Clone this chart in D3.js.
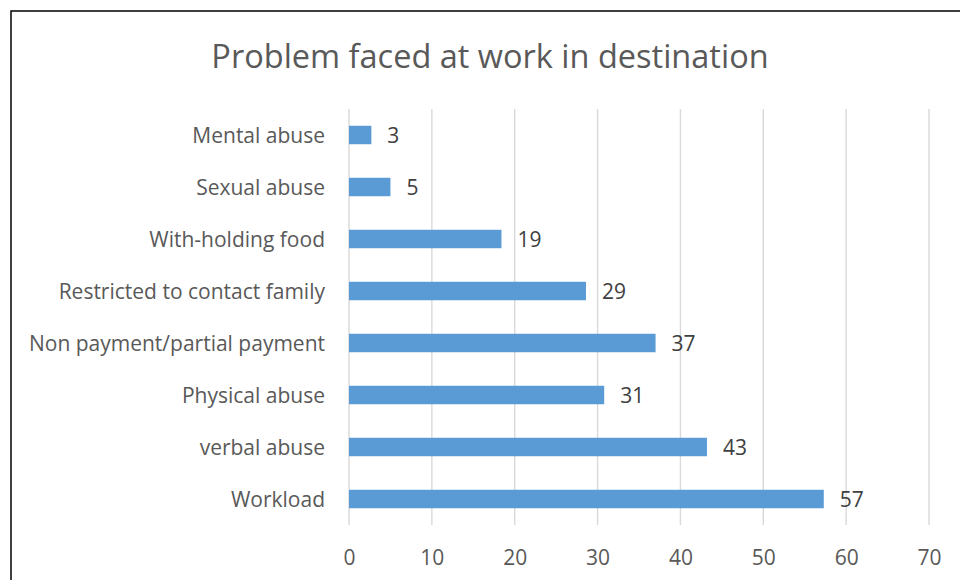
<!DOCTYPE html>
<html>
<head>
<meta charset="utf-8">
<script src="https://cdn.jsdelivr.net/npm/d3@7"></script>
<style>
  body { margin: 0; background: #fff; }
  svg { display: block; font-family: "Open Sans", sans-serif; }
</style>
</head>
<body>
<div id="chart"></div>
<script>
// categories top to bottom, as in the picture
const categories = [
  "Mental abuse",
  "Sexual abuse",
  "With-holding food",
  "Restricted to contact family",
  "Non payment/partial payment",
  "Physical abuse",
  "verbal abuse",
  "Workload",
];
// bar lengths as drawn
const barValues = [2.7, 5.0, 18.4, 28.6, 37.0, 30.8, 43.2, 57.3];
// numbers printed next to the bars
const dataLabels = [3, 5, 19, 29, 37, 31, 43, 57];
const xTicks = [0, 10, 20, 30, 40, 50, 60, 70];

const width = 960;
const height = 580;
const margin = { top: 109, right: 31, bottom: 55, left: 349 };

const data = categories.map((c, i) => ({
  name: c,
  value: barValues[i],
  label: dataLabels[i],
}));

const svg = d3
  .select("#chart")
  .append("svg")
  .attr("width", width)
  .attr("height", height);

// chart frame (only left and top edges show)
svg
  .append("path")
  .attr("d", `M11,${height} L11,11 L${width},11`)
  .attr("fill", "none")
  .attr("stroke", "#000")
  .attr("stroke-width", 1.5);

// title
svg
  .append("text")
  .attr("x", 490)
  .attr("y", 55)
  .attr("text-anchor", "middle")
  .attr("dominant-baseline", "central")
  .style("font-size", "32.5px")
  .style("fill", "#595959")
  .text("Problem faced at work in destination");

const x = d3
  .scaleLinear()
  .domain([0, 70])
  .range([margin.left, width - margin.right]);

const y = d3
  .scaleBand()
  .domain(categories)
  .range([margin.top, height - margin.bottom])
  .paddingInner(0.645)
  .paddingOuter(0.3225);

// vertical gridlines
svg
  .append("g")
  .selectAll("line")
  .data(xTicks)
  .join("line")
  .attr("x1", (d) => x(d))
  .attr("x2", (d) => x(d))
  .attr("y1", margin.top)
  .attr("y2", height - margin.bottom)
  .attr("stroke", "#d9d9d9")
  .attr("stroke-width", 1.4);

// x axis tick labels
const xAxis = svg
  .append("g")
  .attr("transform", `translate(0, ${height - margin.bottom})`)
  .call(d3.axisBottom(x).tickValues(xTicks).tickSize(0));
xAxis.select(".domain").remove();
xAxis
  .selectAll("text")
  .attr("dy", null)
  .attr("y", 32)
  .attr("dominant-baseline", "central")
  .style("font-family", "Open Sans, sans-serif")
  .style("font-size", "21px")
  .style("fill", "#595959");

// y axis category labels
const yAxis = svg
  .append("g")
  .attr("transform", `translate(${margin.left}, 0)`)
  .call(d3.axisLeft(y).tickSize(0).tickPadding(24));
yAxis.select(".domain").remove();
yAxis
  .selectAll("text")
  .attr("dy", null)
  .attr("dominant-baseline", "central")
  .style("font-family", "Open Sans, sans-serif")
  .style("font-size", "21px")
  .style("fill", "#595959");

// bars
svg
  .append("g")
  .selectAll("rect")
  .data(data)
  .join("rect")
  .attr("x", x(0))
  .attr("y", (d) => y(d.name))
  .attr("width", (d) => x(d.value) - x(0))
  .attr("height", y.bandwidth())
  .attr("fill", "#5b9bd5");

// value labels
svg
  .append("g")
  .selectAll("text")
  .data(data)
  .join("text")
  .attr("x", (d) => x(d.value) + 16)
  .attr("y", (d) => y(d.name) + y.bandwidth() / 2)
  .attr("dominant-baseline", "central")
  .style("font-size", "21px")
  .style("fill", "#404040")
  .text((d) => d.label);
</script>
</body>
</html>
